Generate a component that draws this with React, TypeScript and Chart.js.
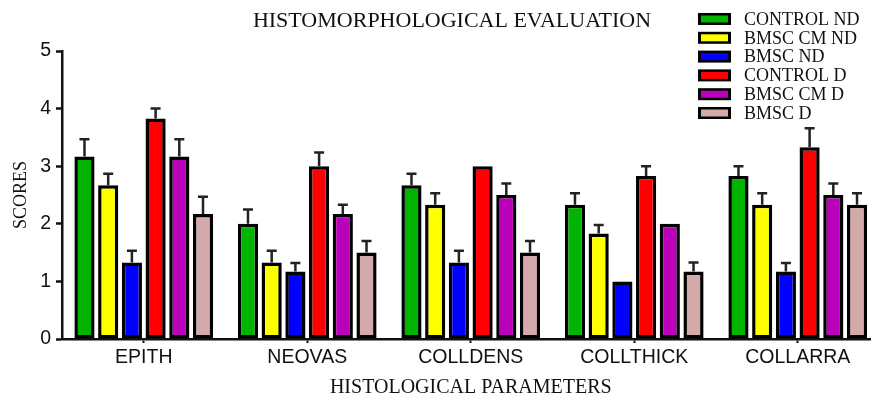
import React, { useEffect, useRef } from "react";
import { Chart, registerables } from "chart.js";

Chart.register(...registerables);

const categories = ["EPITH", "NEOVAS", "COLLDENS", "COLLTHICK", "COLLARRA"];
const seriesLabels = ["CONTROL ND", "BMSC CM ND", "BMSC ND", "CONTROL D", "BMSC CM D", "BMSC D"];
const seriesColors = ["#00b400", "#ffff00", "#0000ff", "#ff0000", "#bb00bb", "#d4a9a9"];

const controlND = [3.17, 2.0, 2.67, 2.33, 2.83];
const bmscCmND = [2.67, 1.33, 2.33, 1.83, 2.33];
const bmscND = [1.33, 1.17, 1.33, 1.0, 1.17];
const controlD = [3.83, 3.0, 3.0, 2.83, 3.33];
const bmscCmD = [3.17, 2.17, 2.5, 2.0, 2.5];
const bmscD = [2.17, 1.5, 1.5, 1.17, 2.33];

const controlNDErr = [0.3, 0.25, 0.2, 0.2, 0.17];
const bmscCmNDErr = [0.2, 0.2, 0.2, 0.15, 0.2];
const bmscNDErr = [0.2, 0.15, 0.2, 0, 0.15];
const controlDErr = [0.17, 0.24, 0, 0.17, 0.33];
const bmscCmDErr = [0.3, 0.16, 0.2, 0, 0.2];
const bmscDErr = [0.3, 0.2, 0.2, 0.16, 0.2];

const yTicks = [0, 1, 2, 3, 4, 5];

const titleText = "HISTOMORPHOLOGICAL EVALUATION";
const xTitle = "HISTOLOGICAL PARAMETERS";
const yTitle = "SCORES";

const seriesValues = [controlND, bmscCmND, bmscND, controlD, bmscCmD, bmscD];
const seriesErrors = [controlNDErr, bmscCmNDErr, bmscNDErr, controlDErr, bmscCmDErr, bmscDErr];

const SERIF = "'Liberation Serif', 'Times New Roman', serif";
const SANS = "'Liberation Sans', Arial, sans-serif";

const errorBarPlugin = {
  id: "errorBars",
  afterDatasetsDraw(chart: any) {
    const ctx = chart.ctx;
    const yScale = chart.scales.y;
    ctx.save();
    ctx.strokeStyle = "#222";
    ctx.lineWidth = 2.5;
    chart.data.datasets.forEach((ds: any, i: number) => {
      const meta = chart.getDatasetMeta(i);
      const errs = ds.errors as number[];
      meta.data.forEach((el: any, j: number) => {
        const e = errs[j];
        if (!e) return;
        const v = ds.data[j];
        const yTop = yScale.getPixelForValue(v + e);
        const x = el.x;
        ctx.beginPath();
        ctx.moveTo(x, el.y);
        ctx.lineTo(x, yTop);
        ctx.moveTo(x - 5, yTop);
        ctx.lineTo(x + 5, yTop);
        ctx.stroke();
      });
    });
    ctx.restore();
  },
};

const decorPlugin = {
  id: "decor",
  afterDraw(chart: any) {
    const ctx = chart.ctx;
    ctx.save();
    ctx.fillStyle = "#111";
    ctx.font = `22px ${SERIF}`;
    ctx.textAlign = "center";
    ctx.textBaseline = "middle";
    ctx.fillText(titleText, 452, 21);

    // legend
    ctx.font = `18px ${SERIF}`;
    ctx.textAlign = "left";
    chart.data.datasets.forEach((ds: any, i: number) => {
      const cy = 19 + i * 18.8;
      ctx.fillStyle = "#000";
      ctx.fillRect(698, cy - 6, 33, 12);
      ctx.fillStyle = ds.backgroundColor;
      ctx.fillRect(701, cy - 3.5, 27, 7);
      ctx.fillStyle = "#111";
      ctx.fillText(ds.label, 744, cy + 1);
    });
    ctx.restore();
  },
};

export default function App() {
  const ref = useRef<HTMLCanvasElement>(null);
  useEffect(() => {
    if (!ref.current) return;
    const chart = new Chart(ref.current, {
      type: "bar",
      data: {
        labels: categories,
        datasets: seriesLabels.map((label, i) => ({
          label,
          data: seriesValues[i],
          errors: seriesErrors[i],
          backgroundColor: seriesColors[i],
          borderColor: "#000",
          borderWidth: 3.5,
          borderSkipped: false,
          categoryPercentage: 0.87,
          barPercentage: 0.85,
        })) as any,
      },
      options: {
        animation: false,
        responsive: false,
        devicePixelRatio: 1,
        layout: { padding: { top: 51, right: 6.5, left: 0, bottom: 0 } },
        plugins: {
          legend: { display: false },
          title: { display: false },
          tooltip: { enabled: false },
        },
        scales: {
          x: {
            grid: {
              offset: false,
              drawOnChartArea: false,
              drawTicks: true,
              tickLength: 4,
              tickWidth: 2,
              color: "#111",
            },
            border: { display: true, color: "#111", width: 2.5 },
            ticks: {
              color: "#111",
              font: { family: SANS, size: 19.5 },
              padding: 3,
              maxRotation: 0,
              autoSkip: false,
            },
            title: {
              display: true,
              text: xTitle,
              color: "#111",
              font: { family: SERIF, size: 20, lineHeight: 1 },
              padding: { top: 0, bottom: 0 },
            },
            afterFit(scale: any) {
              scale.height = 59;
            },
          },
          y: {
            min: 0,
            max: 5,
            afterBuildTicks(scale: any) {
              scale.ticks = yTicks.map((v) => ({ value: v }));
            },
            grid: {
              drawOnChartArea: false,
              drawTicks: true,
              tickLength: 6,
              tickWidth: 2.5,
              color: "#111",
            },
            border: { display: true, color: "#111", width: 2.5 },
            ticks: {
              color: "#111",
              font: { family: SANS, size: 19.5 },
              padding: 5,
            },
            title: {
              display: true,
              text: yTitle,
              color: "#111",
              font: { family: SERIF, size: 18, lineHeight: 1.2 },
              padding: { top: 10, bottom: 0 },
            },
            afterFit(scale: any) {
              scale.width = 62;
            },
          },
        },
      },
      plugins: [errorBarPlugin, decorPlugin],
    } as any);
    return () => chart.destroy();
  }, []);

  return (
    <div
      style={{
        position: "fixed",
        left: 0,
        top: 0,
        width: 871,
        height: 398,
        overflow: "hidden",
        background: "#fff",
      }}
    >
      <canvas ref={ref} width={886} height={398} style={{ display: "block", width: 886, height: 398 }} />
    </div>
  );
}
